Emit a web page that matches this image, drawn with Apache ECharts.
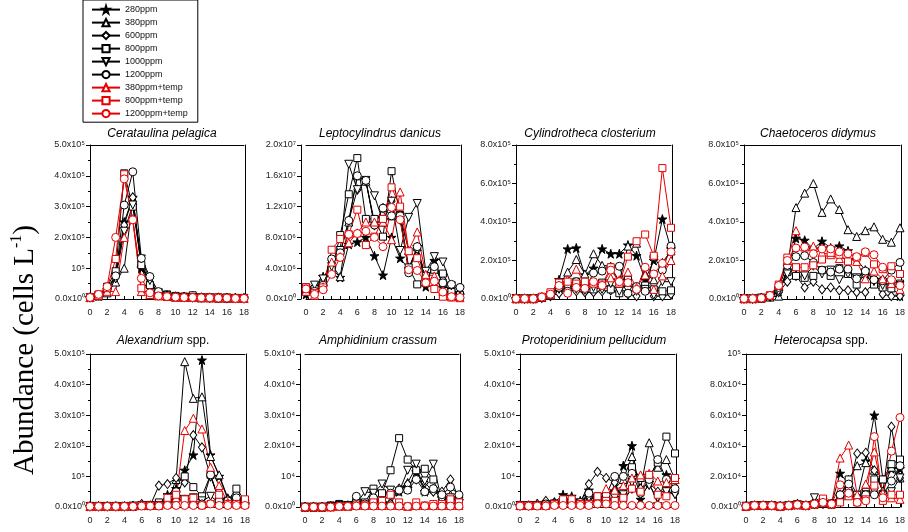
<!DOCTYPE html>
<html><head><meta charset="utf-8">
<script src="https://cdn.jsdelivr.net/npm/echarts@6/dist/echarts.min.js"></script>
<style>html,body{margin:0;padding:0;background:#fff}#c{width:908px;height:532px}</style>
</head><body><div id="c"></div>
<script>
// ---------- categories ----------
const days = [0,1,2,3,4,5,6,7,8,9,10,11,12,13,14,15,16,17,18];
const seriesNames = ['280ppm','380ppm','600ppm','800ppm','1000ppm','1200ppm','380ppm+temp','800ppm+temp','1200ppm+temp'];

// ---------- tick labels ----------
const yTicks5e5 = ['0.0x10⁰','10⁵','2.0x10⁵','3.0x10⁵','4.0x10⁵','5.0x10⁵'];
const yTicks2e7 = ['0.0x10⁰','4.0x10⁶','8.0x10⁶','1.2x10⁷','1.6x10⁷','2.0x10⁷'];
const yTicks8e5 = ['0.0x10⁰','2.0x10⁵','4.0x10⁵','6.0x10⁵','8.0x10⁵'];
const yTicks5e4 = ['0.0x10⁰','10⁴','2.0x10⁴','3.0x10⁴','4.0x10⁴','5.0x10⁴'];
const yTicks1e5 = ['0.0x10⁰','2.0x10⁴','4.0x10⁴','6.0x10⁴','8.0x10⁴','10⁵'];

// ---------- series values (rows follow seriesNames order) ----------
// Cerataulina pelagica, x10^5 cells L-1
const cerataulinaPelagica = [
 [0.05,0.10,0.30,0.80,2.50,3.30,1.00,0.40,0.15,0.10,0.08,0.08,0.10,0.05,0.05,0.05,0.04,0.03,0.03],
 [0.05,0.10,0.20,0.55,1.00,3.20,1.20,0.50,0.20,0.10,0.06,0.05,0.05,0.04,0.04,0.03,0.03,0.02,0.02],
 [0.05,0.12,0.35,0.70,2.40,3.30,1.10,0.55,0.20,0.12,0.08,0.06,0.05,0.05,0.04,0.04,0.03,0.03,0.02],
 [0.06,0.12,0.40,0.90,4.08,3.00,1.10,0.45,0.20,0.15,0.10,0.08,0.12,0.06,0.05,0.05,0.04,0.03,0.03],
 [0.05,0.10,0.30,0.65,2.20,3.05,1.30,0.60,0.20,0.10,0.06,0.05,0.05,0.04,0.04,0.03,0.03,0.02,0.02],
 [0.05,0.10,0.30,0.75,3.05,4.13,1.32,0.73,0.24,0.12,0.08,0.06,0.05,0.05,0.04,0.04,0.03,0.03,0.02],
 [0.05,0.12,0.25,0.24,2.00,2.60,0.24,0.15,0.10,0.08,0.06,0.05,0.05,0.04,0.04,0.03,0.03,0.02,0.02],
 [0.06,0.15,0.35,1.30,4.05,2.57,0.35,0.13,0.10,0.08,0.06,0.05,0.05,0.05,0.05,0.05,0.04,0.03,0.03],
 [0.05,0.15,0.40,2.00,3.90,2.57,0.67,0.20,0.10,0.08,0.06,0.05,0.05,0.04,0.04,0.03,0.03,0.02,0.02]
];
// Leptocylindrus danicus, x10^6 cells L-1
const leptocylindrusDanicus = [
 [0.6,1.0,2.9,4.0,2.8,7.1,7.4,8.0,5.6,3.1,8.0,5.3,3.9,6.8,1.6,5.0,2.0,0.8,0.5],
 [1.2,1.4,2.2,4.4,2.9,10.0,16.0,15.3,10.0,10.0,10.8,10.8,6.3,6.8,2.6,4.2,2.1,1.0,0.6],
 [1.3,1.5,2.5,5.0,6.0,10.2,14.2,15.3,9.6,11.8,12.7,10.3,4.0,6.5,2.8,4.0,2.5,1.2,0.8],
 [1.5,1.3,2.0,3.8,8.3,13.6,18.3,10.4,10.4,8.1,16.6,10.9,4.1,1.9,3.0,3.8,3.3,0.9,0.5],
 [1.4,1.8,2.6,4.2,6.3,17.5,14.2,15.4,13.4,10.0,12.7,6.3,10.6,12.4,3.6,5.5,4.8,1.7,1.2],
 [1.2,1.0,1.8,5.2,6.0,10.2,16.0,15.4,9.6,11.8,10.8,10.8,3.4,6.8,2.6,4.2,2.1,1.9,1.5],
 [1.0,0.5,1.6,4.8,5.5,7.3,8.6,10.0,10.0,10.0,7.7,13.9,6.3,8.7,3.2,3.0,1.0,0.3,0.2],
 [1.5,0.8,1.5,6.4,7.8,8.4,11.6,7.0,8.1,10.4,14.5,12.0,6.2,5.3,2.1,1.3,0.3,0.2,0.1],
 [1.3,0.6,1.2,3.2,5.4,8.4,8.5,8.8,8.0,6.8,11.9,10.3,3.8,3.7,2.1,2.3,0.9,0.3,0.2]
];
// Cylindrotheca closterium, x10^5 cells L-1
const cylindrothecaClosterium = [
 [0.02,0.02,0.02,0.10,0.20,1.00,2.60,2.65,1.25,1.60,2.60,2.35,2.35,2.80,2.25,1.00,2.00,4.15,2.60],
 [0.02,0.02,0.02,0.08,0.20,0.70,1.40,2.05,1.30,2.35,1.75,1.70,0.90,2.75,2.90,1.30,1.00,1.90,2.50],
 [0.02,0.02,0.02,0.05,0.15,0.30,0.50,0.40,0.35,0.35,0.40,0.45,0.35,0.25,0.15,0.70,0.15,0.15,0.25],
 [0.02,0.02,0.02,0.08,0.20,0.60,0.70,0.90,0.60,0.50,0.85,0.50,0.30,1.00,0.55,0.70,0.50,0.40,0.45],
 [0.02,0.02,0.02,0.06,0.18,0.50,0.55,0.50,0.45,0.60,0.50,0.80,0.40,0.45,0.40,0.50,0.20,0.90,0.90],
 [0.02,0.02,0.02,0.08,0.22,0.60,0.40,0.90,0.50,1.35,1.45,1.65,1.70,0.30,0.65,0.40,2.20,1.50,2.75],
 [0.02,0.02,0.02,0.10,0.25,0.80,1.00,1.55,0.80,0.85,0.75,1.10,1.00,1.40,0.60,1.25,0.50,1.20,2.00],
 [0.02,0.02,0.02,0.12,0.35,0.85,0.90,0.80,0.90,0.80,0.75,1.65,0.80,2.20,3.00,3.35,2.25,6.80,3.70],
 [0.02,0.02,0.02,0.10,0.25,0.70,0.30,0.60,0.55,0.90,0.70,1.50,0.90,0.85,0.50,1.65,1.30,1.85,2.45]
];
// Chaetoceros didymus, x10^5 cells L-1
const chaetocerosDidymus = [
 [0.02,0.02,0.05,0.15,0.40,1.50,3.15,3.05,2.60,3.00,2.65,2.75,2.50,2.05,1.50,0.95,1.00,0.60,0.15],
 [0.02,0.02,0.05,0.10,0.15,1.60,4.75,5.50,6.00,4.50,5.20,4.65,3.60,3.25,3.55,3.75,3.10,2.95,3.70],
 [0.02,0.02,0.05,0.12,0.35,0.90,1.20,0.60,0.90,0.50,0.60,0.45,0.45,0.35,0.35,0.85,0.25,0.15,0.15],
 [0.02,0.02,0.05,0.15,0.50,1.40,1.20,1.10,1.20,1.50,1.20,1.60,1.30,0.75,1.30,0.75,0.60,0.55,0.80],
 [0.02,0.02,0.05,0.12,0.40,1.30,1.60,1.20,1.70,1.30,1.50,1.00,1.30,1.10,1.15,0.90,0.70,0.85,0.70],
 [0.02,0.02,0.05,0.15,0.60,1.75,2.20,2.25,1.90,1.50,1.40,1.55,1.55,1.05,1.45,1.00,0.95,1.50,1.90],
 [0.02,0.02,0.05,0.18,0.70,2.00,3.55,2.70,2.75,2.40,2.30,2.10,2.10,1.95,1.05,1.45,1.05,0.80,0.50],
 [0.02,0.02,0.05,0.20,0.75,2.15,1.65,1.65,1.75,2.05,2.40,2.30,1.95,2.15,2.40,1.80,1.55,1.70,1.30],
 [0.02,0.02,0.05,0.18,0.70,2.00,2.65,2.70,2.35,2.60,2.60,2.45,2.35,2.20,2.45,2.30,1.65,1.00,0.70]
];
// Alexandrium spp., x10^5 cells L-1
const alexandriumSpp = [
 [0.02,0.02,0.02,0.02,0.02,0.03,0.05,0.05,0.10,0.40,0.60,1.20,1.70,4.80,1.70,1.00,0.25,0.20,0.10],
 [0.02,0.02,0.02,0.02,0.02,0.03,0.05,0.05,0.10,0.15,0.90,4.75,3.55,3.60,1.65,1.05,0.30,0.30,0.15],
 [0.02,0.02,0.02,0.02,0.02,0.03,0.10,0.05,0.70,0.75,0.95,0.80,2.35,1.95,1.00,0.25,0.25,0.45,0.10],
 [0.02,0.02,0.02,0.02,0.02,0.03,0.05,0.05,0.15,0.20,0.30,1.00,0.65,0.35,1.05,0.20,0.20,0.60,0.20],
 [0.02,0.02,0.02,0.02,0.02,0.03,0.05,0.05,0.05,0.10,0.20,0.25,0.30,0.20,0.35,0.15,0.15,0.20,0.10],
 [0.02,0.02,0.02,0.02,0.02,0.03,0.05,0.05,0.05,0.20,0.50,0.25,0.10,0.10,1.05,0.20,0.20,0.30,0.10],
 [0.02,0.02,0.02,0.02,0.02,0.03,0.05,0.05,0.05,0.10,0.30,2.50,2.90,2.55,1.30,0.70,0.15,0.10,0.10],
 [0.02,0.02,0.02,0.02,0.02,0.03,0.05,0.05,0.05,0.30,0.40,0.25,0.30,0.05,0.10,0.40,0.10,0.10,0.25],
 [0.02,0.02,0.02,0.02,0.02,0.02,0.03,0.03,0.03,0.05,0.05,0.05,0.05,0.05,0.10,0.05,0.05,0.05,0.05]
];
// Amphidinium crassum, x10^4 cells L-1
const amphidiniumCrassum = [
 [0,0,0,0.02,0.05,0.05,0.10,0.10,0.30,0.15,0.45,0.50,0.60,1.15,0.50,0.60,0.30,0.30,0.20],
 [0,0,0,0.02,0.05,0.05,0.10,0.10,0.20,0.10,0.20,0.60,0.80,1.30,0.55,0.60,0.20,0.40,0.10],
 [0,0,0,0.02,0.05,0.05,0.25,0.10,0.30,0.15,0.10,0.60,0.75,0.90,0.80,0.50,0.50,0.90,0.30],
 [0,0,0,0.05,0.10,0.05,0.20,0.15,0.60,0.45,1.20,2.25,1.55,1.20,1.25,0.90,0.15,0.15,0.10],
 [0,0,0,0.02,0.05,0.05,0.10,0.50,0.45,0.75,0.55,0.50,1.20,1.40,0.85,1.40,0.20,0.30,0.20],
 [0,0,0,0.02,0.05,0.05,0.35,0.10,0.30,0.15,0.45,0.55,0.55,0.90,0.50,0.60,0.40,0.65,0.40],
 [0,0,0,0,0.02,0.02,0.05,0.05,0.05,0.05,0.05,0.05,0.02,0.05,0.05,0.05,0.05,0.05,0.05],
 [0,0,0,0,0.02,0.02,0.05,0.05,0.15,0.20,0.40,0.15,0.02,0.15,0.05,0.10,0.10,0.25,0.15],
 [0,0,0,0,0.02,0.02,0.03,0.03,0.03,0.03,0.03,0.03,0.02,0.03,0.03,0.03,0.03,0.03,0.03]
];
// Protoperidinium pellucidum, x10^4 cells L-1
const protoperidiniumPellucidum = [
 [0.05,0.05,0.10,0.10,0.15,0.40,0.35,0.20,0.55,0.30,0.40,0.50,1.35,2.00,0.25,0.80,0.10,1.05,0.90],
 [0.05,0.05,0.10,0.10,0.10,0.20,0.30,0.15,0.40,0.20,0.40,0.60,0.90,1.65,0.60,2.10,1.30,1.55,0.90],
 [0.05,0.05,0.10,0.20,0.15,0.15,0.20,0.15,0.75,1.15,0.95,0.80,0.20,0.60,0.60,0.80,0.50,0.50,0.45],
 [0.05,0.05,0.05,0.10,0.10,0.10,0.20,0.15,0.40,0.35,0.30,0.20,0.35,1.30,0.95,1.00,1.45,2.30,1.75],
 [0.05,0.05,0.05,0.05,0.10,0.10,0.15,0.10,0.30,0.10,0.20,0.30,0.40,0.80,0.40,0.70,0.30,0.50,0.40],
 [0.05,0.05,0.05,0.10,0.10,0.15,0.20,0.15,0.45,0.10,0.40,1.00,1.00,1.10,0.45,0.90,1.55,0.90,0.60],
 [0.05,0.05,0.05,0.05,0.10,0.15,0.15,0.10,0.10,0.30,0.60,0.55,0.70,0.95,1.05,1.10,0.85,0.80,0.90],
 [0.05,0.05,0.05,0.05,0.10,0.25,0.25,0.10,0.10,0.35,0.20,0.20,0.30,0.60,0.50,1.05,0.40,0.35,0.95],
 [0.03,0.03,0.03,0.03,0.05,0.05,0.05,0.05,0.05,0.10,0.10,0.05,0.05,0.05,0.05,0.05,0.05,0.05,0.05]
];
// Heterocapsa spp., x10^4 cells L-1
const heterocapsaSpp = [
 [0.05,0.10,0.10,0.10,0.05,0.10,0.15,0.10,0.20,0.30,0.20,2.20,1.50,0.60,3.00,6.00,1.80,2.50,2.50],
 [0.05,0.10,0.10,0.10,0.05,0.10,0.15,0.10,0.20,0.30,0.20,0.70,1.80,2.70,2.90,2.40,1.00,2.60,1.90],
 [0.05,0.10,0.10,0.10,0.05,0.10,0.20,0.10,0.20,0.20,0.20,0.80,1.20,3.50,3.55,2.40,1.00,5.25,1.90],
 [0.05,0.10,0.10,0.10,0.05,0.10,0.15,0.10,0.20,0.30,0.20,0.70,1.80,0.80,1.00,1.80,1.80,2.80,3.10],
 [0.05,0.10,0.10,0.10,0.05,0.10,0.15,0.10,0.60,0.30,0.20,0.50,0.80,0.50,0.80,1.00,0.80,1.00,1.90],
 [0.05,0.10,0.10,0.10,0.05,0.10,0.15,0.10,0.20,0.30,0.20,0.80,1.50,0.60,0.80,0.80,0.80,1.70,2.70],
 [0.05,0.10,0.10,0.10,0.05,0.10,0.15,0.10,0.20,0.30,0.20,3.20,4.05,0.80,1.50,3.60,0.90,0.60,0.50],
 [0.05,0.10,0.10,0.10,0.05,0.10,0.15,0.10,0.20,0.55,0.20,0.30,0.70,0.30,0.50,1.40,0.40,0.80,0.80],
 [0.05,0.10,0.10,0.10,0.05,0.10,0.15,0.10,0.20,0.30,0.20,1.45,0.90,0.30,0.40,4.60,0.60,3.65,5.85]
];

// ---------- layout / style ----------
const FONT = '"Liberation Sans", Arial, sans-serif';
const BLACK = '#000000', RED = '#e60000';
const STAR = 'path://M50 0L61.2 34.5L97.6 34.5L68.2 55.9L79.4 90.5L50 69.1L20.6 90.5L31.8 55.9L2.4 34.5L38.8 34.5Z';
const markerStyles = [
  {symbol: STAR, size: 9, rotate: 0, stroke: BLACK, fill: BLACK},
  {symbol: 'triangle', size: 8, rotate: 0, stroke: BLACK, fill: '#fff'},
  {symbol: 'diamond', size: [7, 9], rotate: 0, stroke: BLACK, fill: '#fff'},
  {symbol: 'rect', size: 7, rotate: 0, stroke: BLACK, fill: '#fff'},
  {symbol: 'triangle', size: 8, rotate: 180, stroke: BLACK, fill: '#fff'},
  {symbol: 'circle', size: 8, rotate: 0, stroke: BLACK, fill: '#fff'},
  {symbol: 'triangle', size: 8, rotate: 0, stroke: RED, fill: '#fff'},
  {symbol: 'rect', size: 7, rotate: 0, stroke: RED, fill: '#fff'},
  {symbol: 'circle', size: 8, rotate: 0, stroke: RED, fill: '#fff'}
];

const panels = [
  {name: ['Cerataulina pelagica', ''], data: cerataulinaPelagica, ticks: yTicks5e5, max: 5, step: 1,
   left: 90, top: 145, width: 154, height: 154, yOff: 0, tx: 162, ty: 136},
  {name: ['Leptocylindrus danicus', ''], data: leptocylindrusDanicus, ticks: yTicks2e7, max: 20, step: 4,
   left: 306, top: 145, width: 154, height: 154, yOff: 5, tx: 380, ty: 136},
  {name: ['Cylindrotheca closterium', ''], data: cylindrothecaClosterium, ticks: yTicks8e5, max: 8, step: 2,
   left: 516, top: 145, width: 155, height: 154, yOff: 0, tx: 590, ty: 136},
  {name: ['Chaetoceros didymus', ''], data: chaetocerosDidymus, ticks: yTicks8e5, max: 8, step: 2,
   left: 744, top: 145, width: 156, height: 154, yOff: 0, tx: 818, ty: 136},
  {name: ['Alexandrium', 'spp.'], data: alexandriumSpp, ticks: yTicks5e5, max: 5, step: 1,
   left: 90, top: 354, width: 155, height: 153, yOff: 0, tx: 163, ty: 343},
  {name: ['Amphidinium crassum', ''], data: amphidiniumCrassum, ticks: yTicks5e4, max: 5, step: 1,
   left: 305, top: 354, width: 154, height: 153, yOff: 5, tx: 378, ty: 343},
  {name: ['Protoperidinium pellucidum', ''], data: protoperidiniumPellucidum, ticks: yTicks5e4, max: 5, step: 1,
   left: 520, top: 354, width: 155, height: 153, yOff: 0, tx: 594, ty: 343},
  {name: ['Heterocapsa', 'spp.'], data: heterocapsaSpp, ticks: yTicks1e5, max: 10, step: 2,
   left: 746, top: 354, width: 155, height: 153, yOff: 0, tx: 821, ty: 343}
];

const grids = [], xAxes = [], yAxes = [], series = [], titles = [];
const axisLine = {show: true, onZero: false, lineStyle: {color: BLACK, width: 1}};

panels.forEach((p, i) => {
  grids.push({left: p.left, top: p.top, width: p.width, height: p.height, containLabel: false});
  xAxes.push({
    gridIndex: i, type: 'value', min: 0, max: 18, interval: 2, position: 'bottom',
    axisLine: axisLine,
    axisTick: {show: true, inside: true, length: 3, lineStyle: {color: BLACK}},
    minorTick: {show: true, splitNumber: 2, length: 3, lineStyle: {color: BLACK}},
    axisLabel: {fontSize: 9, color: '#222', margin: 9, fontFamily: FONT},
    splitLine: {show: false}, minorSplitLine: {show: false}
  });
  xAxes.push({
    gridIndex: i, type: 'value', min: 0, max: 18, position: 'top',
    axisLine: axisLine, axisTick: {show: false}, axisLabel: {show: false}, splitLine: {show: false}
  });
  yAxes.push({
    gridIndex: i, type: 'value', min: 0, max: p.max, interval: p.step, position: 'left', offset: p.yOff,
    axisLine: axisLine,
    axisTick: {show: true, inside: false, length: 4, lineStyle: {color: BLACK}},
    minorTick: {show: true, splitNumber: 2, length: 2, lineStyle: {color: BLACK}},
    axisLabel: {fontSize: 9, color: '#222', margin: 5, fontFamily: FONT,
      formatter: v => p.ticks[Math.round(v / p.step)] || ''},
    splitLine: {show: false}, minorSplitLine: {show: false}
  });
  yAxes.push({
    gridIndex: i, type: 'value', min: 0, max: p.max, position: 'right', offset: 1,
    axisLine: axisLine, axisTick: {show: false}, axisLabel: {show: false}, splitLine: {show: false}
  });
  p.data.forEach((vals, k) => {
    const st = markerStyles[k];
    series.push({
      name: seriesNames[k], type: 'line', xAxisIndex: 2 * i, yAxisIndex: 2 * i,
      data: vals.map((v, j) => [days[j], v]),
      symbol: st.symbol, symbolSize: st.size, symbolRotate: st.rotate,
      showSymbol: true, showAllSymbol: true, clip: false,
      lineStyle: {color: st.stroke, width: 1},
      itemStyle: {color: st.fill, borderColor: st.stroke, borderWidth: 1},
      emphasis: {disabled: true}, animation: false
    });
  });
  titles.push({
    text: p.name[1] ? '{i|' + p.name[0] + '} {n|' + p.name[1] + '}' : '{i|' + p.name[0] + '}',
    left: p.tx, top: p.ty - 8, textAlign: 'center', padding: 0,
    textStyle: {
      fontWeight: 'normal', fontSize: 12, fontFamily: FONT, color: '#000',
      rich: {
        i: {fontSize: 12, fontStyle: 'italic', fontWeight: 'normal', fontFamily: FONT, color: '#000'},
        n: {fontSize: 12, fontStyle: 'normal', fontWeight: 'normal', fontFamily: FONT, color: '#000'}
      }
    }
  });
});

const chart = echarts.init(document.getElementById('c'), null, {renderer: 'canvas'});
chart.setOption({
  animation: false,
  backgroundColor: '#fff',
  title: titles,
  grid: grids,
  xAxis: xAxes,
  yAxis: yAxes,
  series: series,
  legend: {
    data: seriesNames, orient: 'vertical', left: 83, top: 0,
    itemWidth: 28, itemHeight: 9, itemGap: 3.8,
    padding: [5, 10, 4, 8], borderColor: '#000', borderWidth: 1, backgroundColor: '#fff',
    textStyle: {fontSize: 9, fontFamily: FONT, color: '#111'},
    selectedMode: false
  },
  graphic: [{
    type: 'text', x: 25, y: 350, rotation: Math.PI / 2,
    style: {
      text: '{n|Abundance (cells L}{s|-1}{n|)}',
      align: 'center', verticalAlign: 'middle',
      rich: {
        n: {fontSize: 29, fontFamily: '"Liberation Serif", "Times New Roman", serif', fill: '#000', lineHeight: 32},
        s: {fontSize: 16, fontFamily: '"Liberation Serif", "Times New Roman", serif', fill: '#000', verticalAlign: 'top', lineHeight: 32}
      }
    }
  }]
});
</script>
</body></html>
